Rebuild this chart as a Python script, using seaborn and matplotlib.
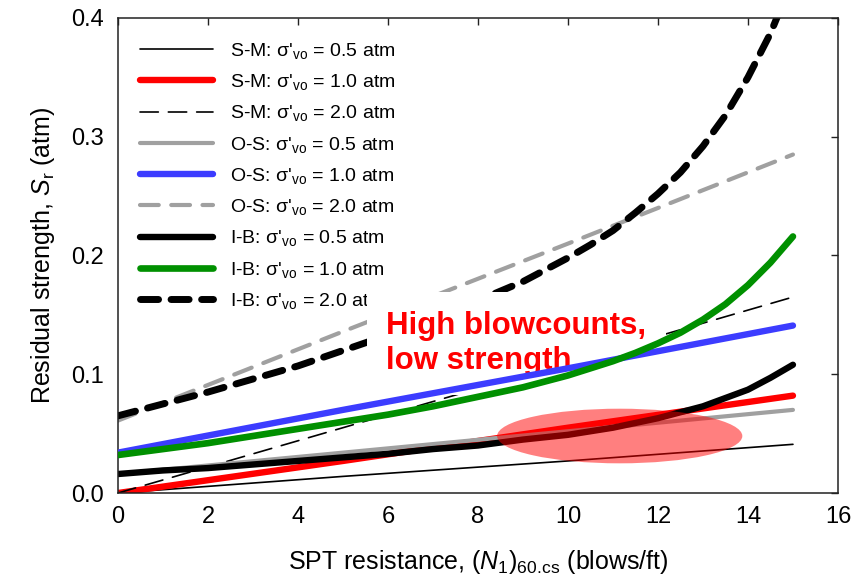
import matplotlib
matplotlib.use("Agg")
import matplotlib.pyplot as plt
import seaborn as sns
from matplotlib.patches import Ellipse
from matplotlib.ticker import FormatStrFormatter

# Data
n_lin = [0, 5, 10, 15]
sm_05 = [0.0, 0.014, 0.027, 0.041]
sm_10 = [0.0, 0.027, 0.055, 0.082]
sm_20 = [0.0, 0.055, 0.110, 0.165]
os_05 = [0.016, 0.034, 0.052, 0.070]
os_10 = [0.034, 0.070, 0.105, 0.141]
os_20 = [0.061, 0.136, 0.210, 0.285]

n_ib = [0, 1, 2, 3, 4, 5, 6, 7, 8, 9, 10, 10.5, 11, 11.5, 12, 12.5, 13, 13.5, 14, 14.5, 15]
ib_05 = [0.016, 0.019, 0.021, 0.024, 0.027, 0.030, 0.033, 0.037, 0.040, 0.045, 0.049,
         0.052, 0.055, 0.059, 0.063, 0.068, 0.073, 0.080, 0.087, 0.097, 0.108]
ib_10 = [0.032, 0.037, 0.042, 0.048, 0.054, 0.060, 0.066, 0.073, 0.081, 0.089, 0.099,
         0.105, 0.111, 0.118, 0.126, 0.135, 0.146, 0.159, 0.175, 0.194, 0.216]
ib_20 = [0.065, 0.075, 0.085, 0.096, 0.107, 0.120, 0.133, 0.146, 0.162, 0.178, 0.198,
         0.209, 0.221, 0.236, 0.252, 0.270, 0.292, 0.318, 0.350, 0.387, 0.433]

x_ticks = [0, 2, 4, 6, 8, 10, 12, 14, 16]
y_ticks = [0.0, 0.1, 0.2, 0.3, 0.4]

SIG = "σ'$_{\\rm vo}$"


def main():
    sns.set_style("white")
    plt.rcParams["font.family"] = ["Liberation Sans", "DejaVu Sans"]
    plt.rcParams["mathtext.fontset"] = "custom"
    plt.rcParams["mathtext.rm"] = "Liberation Sans"
    plt.rcParams["mathtext.it"] = "Liberation Sans:italic"
    plt.rcParams["text.color"] = "black"
    plt.rcParams["axes.labelcolor"] = "black"
    plt.rcParams["xtick.color"] = "black"
    plt.rcParams["ytick.color"] = "black"

    fig = plt.figure(figsize=(8.52, 5.79), dpi=100)
    ax = fig.add_axes([0.1385, 0.1485, 0.845, 0.8205])

    # (x, y, label, color, lw, linestyle, zorder)
    series = [
        (n_lin, sm_05, f"S-M: {SIG} = 0.5 atm", "black", 1.2, "-", 2),
        (n_lin, sm_10, f"S-M: {SIG} = 1.0 atm", "#ff0000", 4.6, "-", 2),
        (n_lin, sm_20, f"S-M: {SIG} = 2.0 atm", "black", 1.2, (0, (11, 6)), 2),
        (n_lin, os_05, f"O-S: {SIG} = 0.5 atm", "#a0a0a0", 3.0, "-", 2),
        (n_lin, os_10, f"O-S: {SIG} = 1.0 atm", "#3c3cff", 4.6, "-", 7),
        (n_lin, os_20, f"O-S: {SIG} = 2.0 atm", "#a0a0a0", 3.0, (0, (4.5, 3)), 2),
        (n_ib, ib_05, f"I-B: {SIG} = 0.5 atm", "black", 4.6, "-", 2),
        (n_ib, ib_10, f"I-B: {SIG} = 1.0 atm", "#009000", 4.8, "-", 7),
        (n_ib, ib_20, f"I-B: {SIG} = 2.0 atm", "black", 5.0, (0, (2.6, 1.8)), 2),
    ]
    for x, y, lab, col, lw, ls, z in series:
        sns.lineplot(x=x, y=y, ax=ax, color=col, linewidth=lw, linestyle=ls,
                     label=lab, zorder=z, solid_capstyle="round",
                     dash_capstyle="round")

    # highlight region
    ax.add_patch(Ellipse((11.15, 0.048), 5.45, 0.046, facecolor="red",
                         edgecolor="none", alpha=0.5, zorder=8))

    ax.text(5.96, 0.153, "High blowcounts,\nlow strength", color="red",
            fontsize=22.5, fontweight="bold", ha="left", va="top",
            linespacing=1.2, zorder=6,
            bbox=dict(facecolor="white", edgecolor="none", pad=14))

    leg = ax.legend(loc="upper left", bbox_to_anchor=(0.03, 0.952),
                    frameon=False, fontsize=14, handlelength=3.8,
                    handletextpad=0.85, labelspacing=0.58, borderpad=0,
                    borderaxespad=0)
    leg.set_zorder(5)

    ax.set_xlim(0, 16)
    ax.set_ylim(0, 0.4)
    ax.set_xticks(x_ticks)
    ax.set_yticks(y_ticks)
    ax.yaxis.set_major_formatter(FormatStrFormatter("%.1f"))
    ax.tick_params(direction="in", top=True, right=True, length=5,
                   width=1.0, labelsize=17, color="#222222")
    ax.tick_params(axis="y", pad=10)
    ax.tick_params(axis="x", pad=9)
    for sp in ax.spines.values():
        sp.set_linewidth(1.1)
        sp.set_color("#222222")
        sp.set_visible(True)

    ax.set_xlabel("SPT resistance, ($\\it{N}_{\\rm 1}$)$_{\\rm 60.\\!cs}$ (blows/ft)",
                  fontsize=18, labelpad=15)
    ax.set_ylabel("Residual strength, $\\it{S}_{\\rm r}$ (atm)", fontsize=18,
                  labelpad=10)

    fig.savefig("out.png", dpi=100)


if __name__ == "__main__":
    main()
